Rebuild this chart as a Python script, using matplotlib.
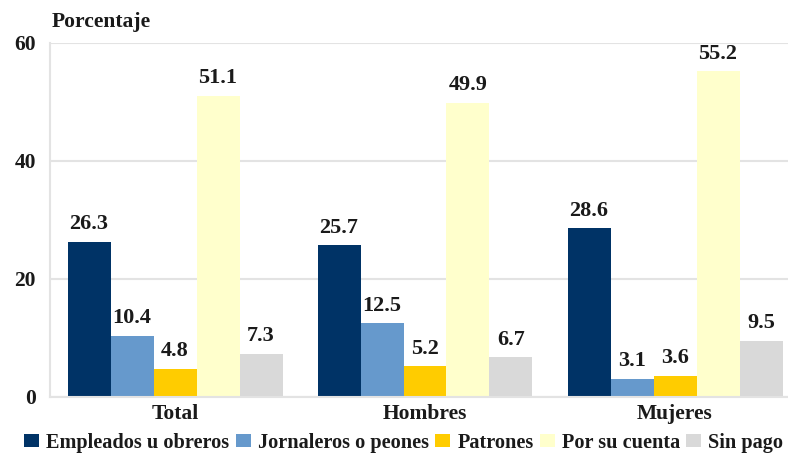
import numpy as np
import matplotlib.pyplot as plt

plt.rcParams['font.family'] = ['Liberation Serif', 'DejaVu Serif']
plt.rcParams['font.weight'] = 'bold'

groups = ['Total', 'Hombres', 'Mujeres']
series = ['Empleados u obreros', 'Jornaleros o peones', 'Patrones',
          'Por su cuenta', 'Sin pago']
empleados = [26.3, 25.7, 28.6]
jornaleros = [10.4, 12.5, 3.1]
patrones = [4.8, 5.2, 3.6]
cuenta_propia = [51.1, 49.9, 55.2]
sin_pago = [7.3, 6.7, 9.5]
colors = ['#003366', '#6699CC', '#FFCC00', '#FFFFCC', '#D9D9D9']
yticks = [0, 20, 40, 60]

values = [empleados, jornaleros, patrones, cuenta_propia, sin_pago]

fig = plt.figure(figsize=(7.88, 4.53), dpi=100)
ax = fig.add_axes([50 / 788, 56 / 453, 750 / 788, 354 / 453])

x = np.arange(len(groups))
w = 0.172
for i, (name, vals, c) in enumerate(zip(series, values, colors)):
    pos = x + (i - 2) * w
    bars = ax.bar(pos, vals, width=w, color=c, label=name, zorder=2)
    for b, v in zip(bars, vals):
        ax.annotate(f'{v:.1f}', (b.get_x() + b.get_width() / 2, v),
                    xytext=(0, 5.5), textcoords='offset points',
                    ha='center', va='bottom', fontsize=16,
                    fontweight='bold', color='#1a1a1a')

ax.set_xlim(-0.5, 2.5)
ax.set_ylim(0, 60)
ax.set_yticks(yticks)
ax.set_xticks(x)
ax.set_xticklabels(groups, fontsize=15.5, fontweight='bold')
ax.tick_params(axis='both', length=0, labelsize=15.5, colors='#1a1a1a')
ax.tick_params(axis='x', pad=5)
ax.tick_params(axis='y', pad=10)
ax.yaxis.grid(True, color='#E3E3E3', linewidth=1.5, zorder=0)
for s in ['top', 'right']:
    ax.spines[s].set_visible(False)
for s in ['left', 'bottom']:
    ax.spines[s].set_color('#E3E3E3')
    ax.spines[s].set_linewidth(1.5)

fig.text(52 / 788, 1 - 22 / 453, 'Porcentaje', fontsize=15.5,
         fontweight='bold', va='center', ha='left', color='#1a1a1a')

leg = fig.legend(loc='center left', bbox_to_anchor=(24 / 788, 1 - 443 / 453),
                 ncol=5, frameon=False, fontsize=14.6, handlelength=0.75,
                 handleheight=0.6, handletextpad=0.35, columnspacing=0.3,
                 borderaxespad=0, borderpad=0)
for t in leg.get_texts():
    t.set_color('#1a1a1a')

fig.savefig('out.png', dpi=100)
